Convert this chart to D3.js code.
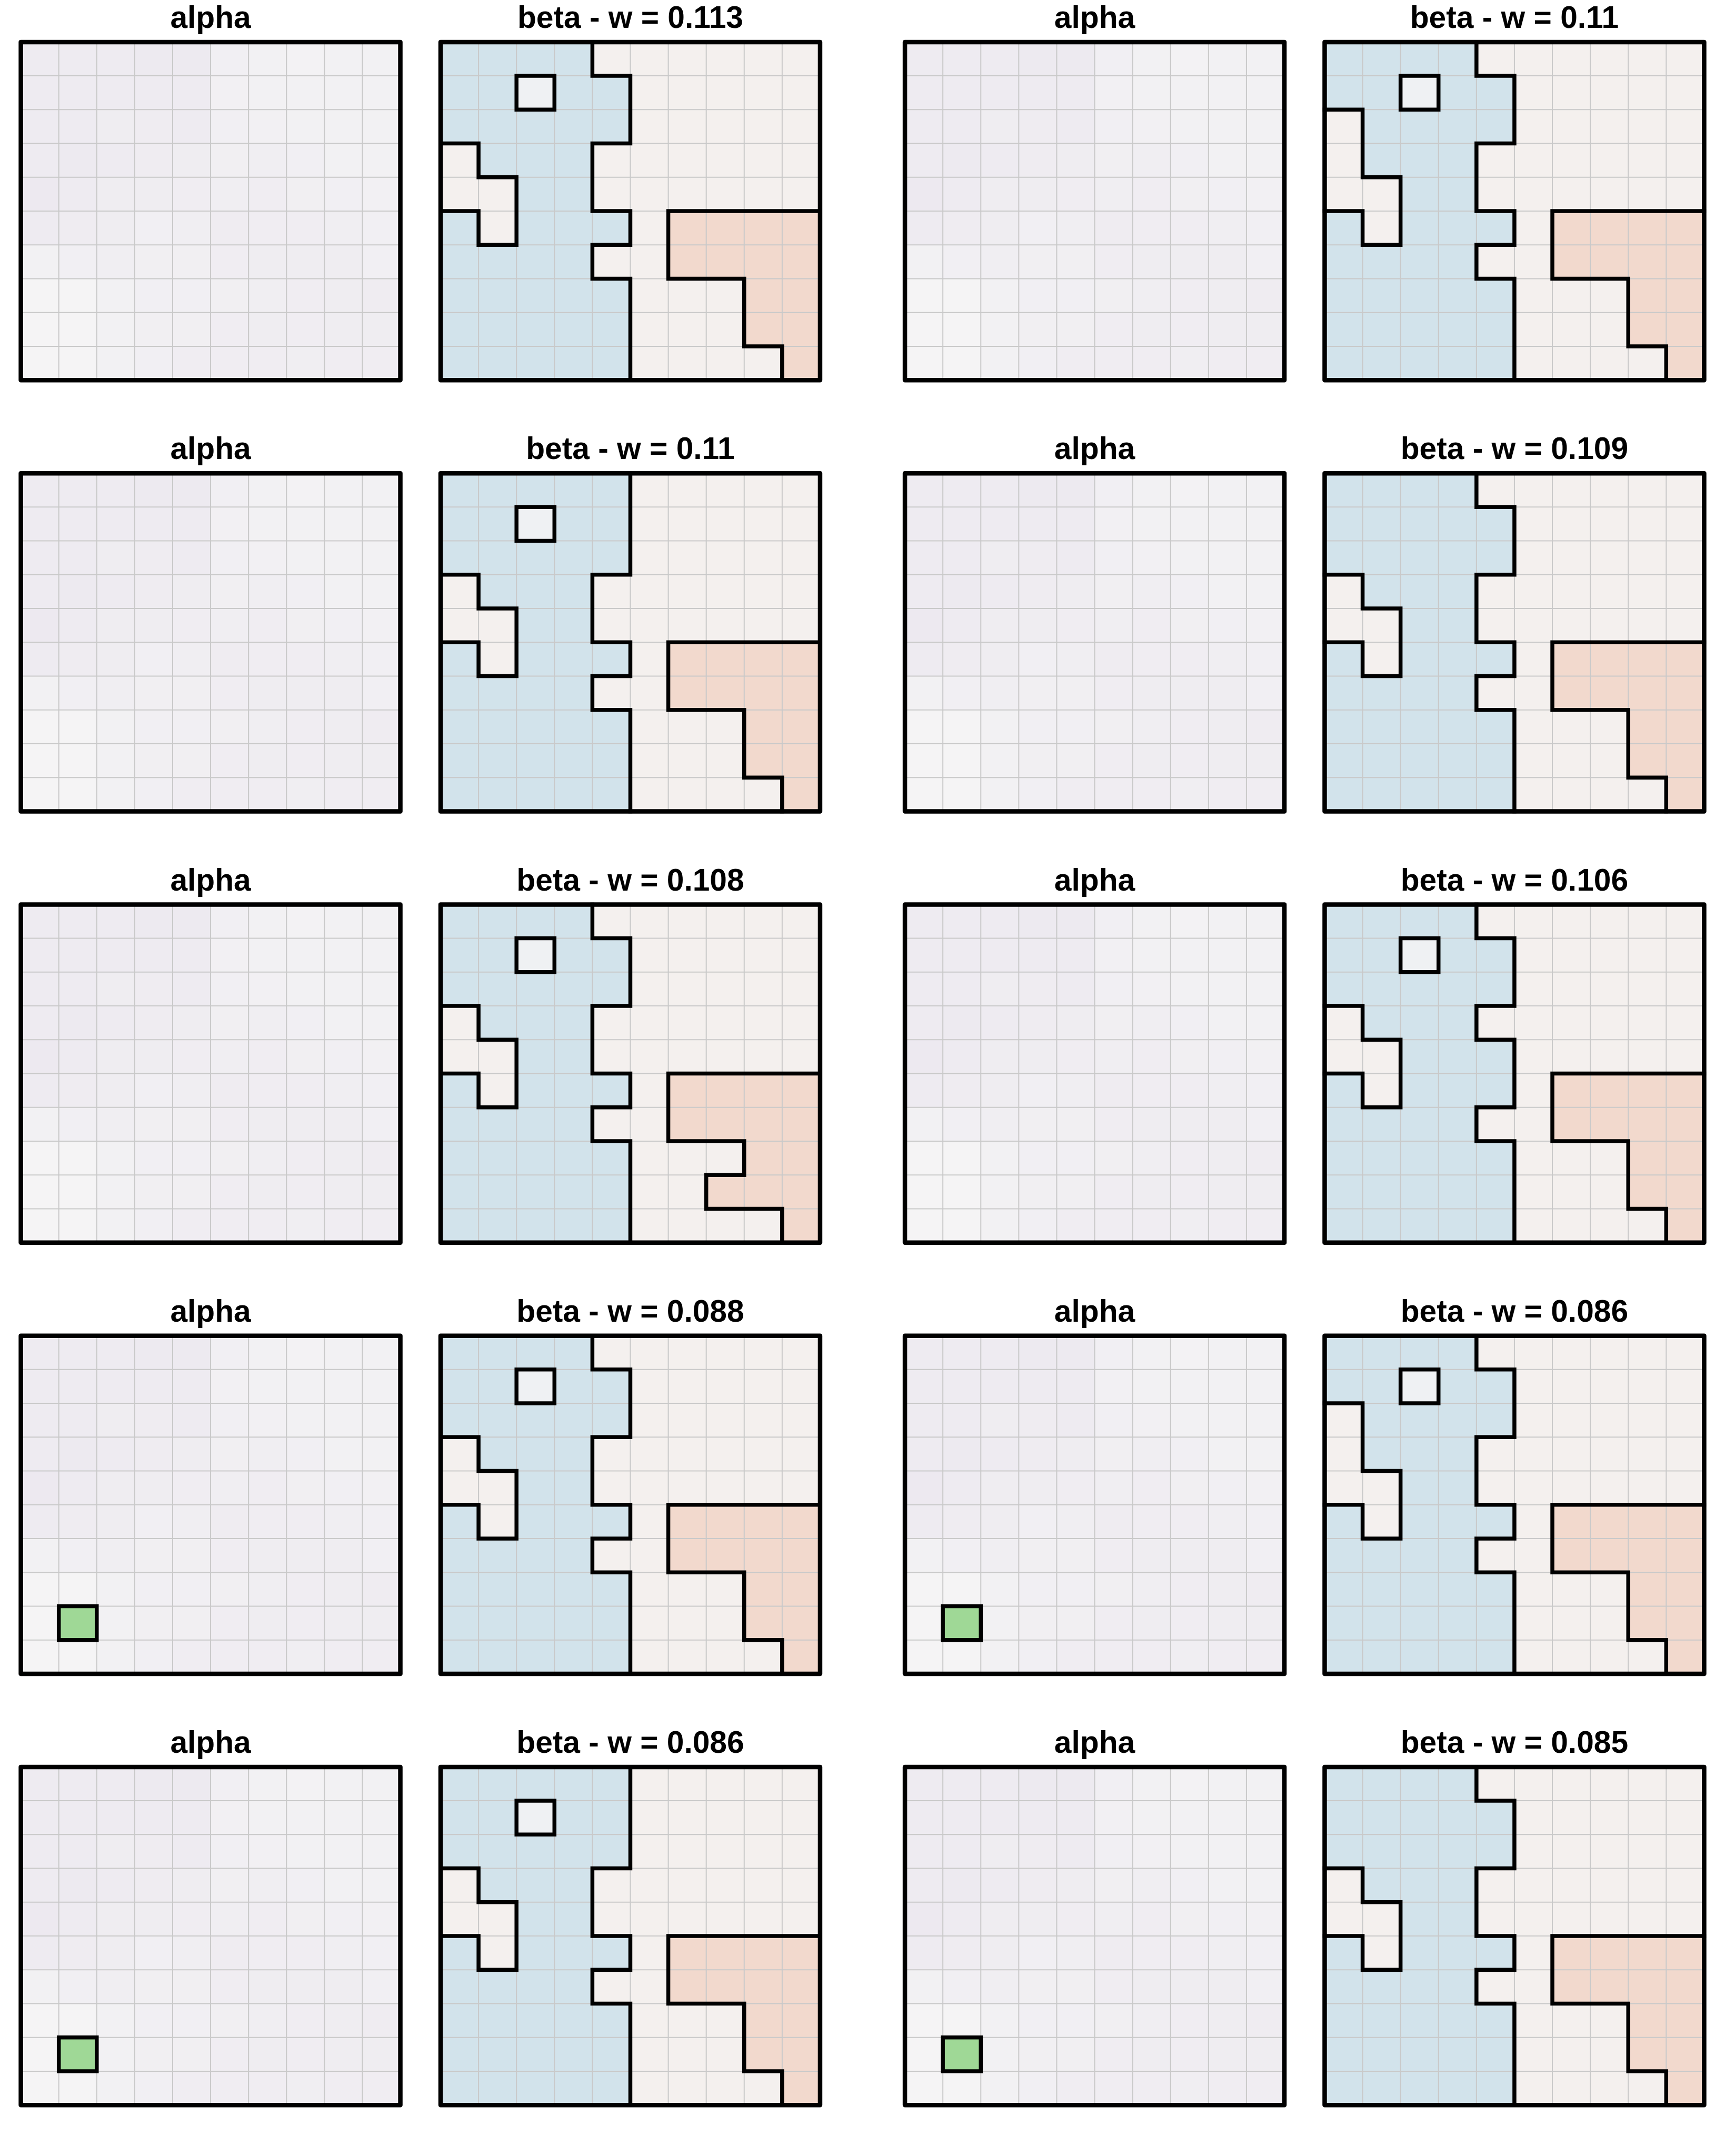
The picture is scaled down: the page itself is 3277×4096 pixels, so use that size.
<!DOCTYPE html>
<html><head><meta charset="utf-8">
<script src="https://cdn.jsdelivr.net/npm/d3@7"></script>
<style>html,body{margin:0;padding:0;background:#fff;}</style>
</head><body>
<script>
// ---------------- DATA ----------------
const alphaTitle = "alpha";
const betaWeights = ["0.113", "0.11", "0.11", "0.109", "0.108", "0.106", "0.088", "0.086", "0.086", "0.085"];

// alpha field (same shape in every alpha panel): small negative values (lavender tint)
const alphaValues = [
  [-0.70, -0.70, -0.75, -0.80, -0.80, -0.40, -0.30, -0.25, -0.30, -0.30],
  [-0.70, -0.70, -0.75, -0.70, -0.75, -0.35, -0.30, -0.30, -0.30, -0.30],
  [-0.70, -0.70, -0.60, -0.65, -0.75, -0.40, -0.35, -0.30, -0.30, -0.30],
  [-0.70, -0.80, -0.75, -0.65, -0.60, -0.45, -0.50, -0.40, -0.30, -0.30],
  [-0.85, -0.70, -0.60, -0.60, -0.55, -0.50, -0.55, -0.45, -0.40, -0.35],
  [-0.70, -0.65, -0.60, -0.40, -0.50, -0.65, -0.55, -0.55, -0.50, -0.40],
  [-0.30, -0.40, -0.50, -0.45, -0.45, -0.55, -0.60, -0.60, -0.60, -0.40],
  [-0.05, -0.05, -0.30, -0.40, -0.40, -0.45, -0.50, -0.55, -0.60, -0.65],
  [-0.05, -0.05, -0.30, -0.45, -0.45, -0.55, -0.60, -0.55, -0.60, -0.60],
  [-0.05, -0.05, -0.30, -0.40, -0.55, -0.55, -0.55, -0.50, -0.55, -0.55]
];
// significant (green) alpha cells per panel pair, as [row, col]
const alphaSignificant = [[], [], [], [], [], [], [[8, 1]], [[8, 1]], [[8, 1]], [[8, 1]]];
const alphaSignificantValue = 1;

// beta maps: B = strong negative, n = weak negative, . = weak positive, O = strong positive
const betaCodeValue = { "B": -1, "n": -0.15, ".": 0.15, "O": 1 };
const betaMaps = [
  ["BBBB......", "BBnBB.....", "BBBBB.....", ".BBB......", "..BB......",
   "B.BBB.OOOO", "BBBB..OOOO", "BBBBB...OO", "BBBBB...OO", "BBBBB....O"],
  ["BBBB......", "BBnBB.....", ".BBBB.....", ".BBB......", "..BB......",
   "B.BBB.OOOO", "BBBB..OOOO", "BBBBB...OO", "BBBBB...OO", "BBBBB....O"],
  ["BBBBB.....", "BBnBB.....", "BBBBB.....", ".BBB......", "..BB......",
   "B.BBB.OOOO", "BBBB..OOOO", "BBBBB...OO", "BBBBB...OO", "BBBBB....O"],
  ["BBBB......", "BBBBB.....", "BBBBB.....", ".BBB......", "..BB......",
   "B.BBB.OOOO", "BBBB..OOOO", "BBBBB...OO", "BBBBB...OO", "BBBBB....O"],
  ["BBBB......", "BBnBB.....", "BBBBB.....", ".BBB......", "..BB......",
   "B.BBB.OOOO", "BBBB..OOOO", "BBBBB...OO", "BBBBB..OOO", "BBBBB....O"],
  ["BBBB......", "BBnBB.....", "BBBBB.....", ".BBB......", "..BBB.....",
   "B.BBB.OOOO", "BBBB..OOOO", "BBBBB...OO", "BBBBB...OO", "BBBBB....O"],
  ["BBBB......", "BBnBB.....", "BBBBB.....", ".BBB......", "..BB......",
   "B.BBB.OOOO", "BBBB..OOOO", "BBBBB...OO", "BBBBB...OO", "BBBBB....O"],
  ["BBBB......", "BBnBB.....", ".BBBB.....", ".BBB......", "..BB......",
   "B.BBB.OOOO", "BBBB..OOOO", "BBBBB...OO", "BBBBB...OO", "BBBBB....O"],
  ["BBBBB.....", "BBnBB.....", "BBBBB.....", ".BBB......", "..BB......",
   "B.BBB.OOOO", "BBBB..OOOO", "BBBBB...OO", "BBBBB...OO", "BBBBB....O"],
  ["BBBB......", "BBBBB.....", "BBBBB.....", ".BBB......", "..BB......",
   "B.BBB.OOOO", "BBBB..OOOO", "BBBBB...OO", "BBBBB...OO", "BBBBB....O"]
];

// ---------------- LAYOUT ----------------
const W = 3277, H = 4096, S = W / 4800;
const pairLefts = [[58, 1226], [2518, 3686]];
const panelW = 1056, panelH = 941, rowStep = 1200, firstTop = 117;
const NR = 10, NC = 10;

const alphaColor = d3.scaleLinear().domain([-1, 0, 1]).range(["#ebe7ef", "#f5f5f5", "#9fd896"]);
const betaColor = d3.scaleLinear().domain([-1, 0, 1]).range(["#d2e3eb", "#f4f4f4", "#f2d9cd"]);
const classifyBeta = v => (v <= -0.5 ? -1 : (v >= 0.5 ? 1 : 0));
const classifyAlpha = v => (v >= 0.5 ? 1 : 0);

const svg = d3.select("body").append("svg").attr("width", W).attr("height", H)
  .style("display", "block");
svg.append("rect").attr("width", W).attr("height", H).attr("fill", "#fff");

function drawPanel(left, top, values, color, classify, title) {
  const g = svg.append("g");
  const x = d3.scaleLinear().domain([0, NC]).range([left * S, (left + panelW) * S]);
  const y = d3.scaleLinear().domain([0, NR]).range([top * S, (top + panelH) * S]);
  const cells = [];
  values.forEach((row, r) => row.forEach((v, c) => cells.push({ r, c, v })));
  g.selectAll("rect.cell").data(cells).join("rect").attr("class", "cell")
    .attr("x", d => x(d.c)).attr("y", d => y(d.r))
    .attr("width", d => x(d.c + 1) - x(d.c)).attr("height", d => y(d.r + 1) - y(d.r))
    .attr("fill", d => color(d.v)).attr("stroke", d => color(d.v)).attr("stroke-width", 0.5);
  // gridlines
  const grid = d3.path();
  for (let k = 1; k < NC; k++) { grid.moveTo(x(k), y(0)); grid.lineTo(x(k), y(NR)); }
  for (let k = 1; k < NR; k++) { grid.moveTo(x(0), y(k)); grid.lineTo(x(NC), y(k)); }
  g.append("path").attr("d", grid.toString()).attr("stroke", "#c9c9c9")
    .attr("stroke-width", 2).attr("fill", "none");
  // contours between classes
  const cont = d3.path();
  for (let r = 0; r < NR; r++) for (let c = 0; c < NC; c++) {
    const k = classify(values[r][c]);
    if (c + 1 < NC && classify(values[r][c + 1]) !== k) { cont.moveTo(x(c + 1), y(r)); cont.lineTo(x(c + 1), y(r + 1)); }
    if (r + 1 < NR && classify(values[r + 1][c]) !== k) { cont.moveTo(x(c), y(r + 1)); cont.lineTo(x(c + 1), y(r + 1)); }
  }
  g.append("path").attr("d", cont.toString()).attr("stroke", "#000")
    .attr("stroke-width", 7.5).attr("stroke-linecap", "square").attr("fill", "none");
  // frame
  g.append("rect").attr("x", x(0)).attr("y", y(0)).attr("width", x(NC) - x(0)).attr("height", y(NR) - y(0))
    .attr("fill", "none").attr("stroke", "#000").attr("stroke-width", 8.5).attr("stroke-linejoin", "round");
  // title
  g.append("text").attr("x", (x(0) + x(NC)) / 2).attr("y", (top - 45) * S + 4)
    .attr("text-anchor", "middle").attr("font-family", "'Liberation Sans', Arial, sans-serif")
    .attr("font-weight", "bold").attr("font-size", 86 * S).attr("fill", "#000").text(title);
}

for (let row = 0; row < 5; row++) {
  for (let pc = 0; pc < 2; pc++) {
    const p = row * 2 + pc;
    const top = firstTop + row * rowStep;
    const aVals = alphaValues.map(r => r.slice());
    alphaSignificant[p].forEach(([r, c]) => { aVals[r][c] = alphaSignificantValue; });
    drawPanel(pairLefts[pc][0], top, aVals, alphaColor, classifyAlpha, alphaTitle);
    const bVals = betaMaps[p].map(s => s.split("").map(ch => betaCodeValue[ch]));
    drawPanel(pairLefts[pc][1], top, bVals, betaColor, classifyBeta, "beta - w = " + betaWeights[p]);
  }
}
</script>
</body></html>
